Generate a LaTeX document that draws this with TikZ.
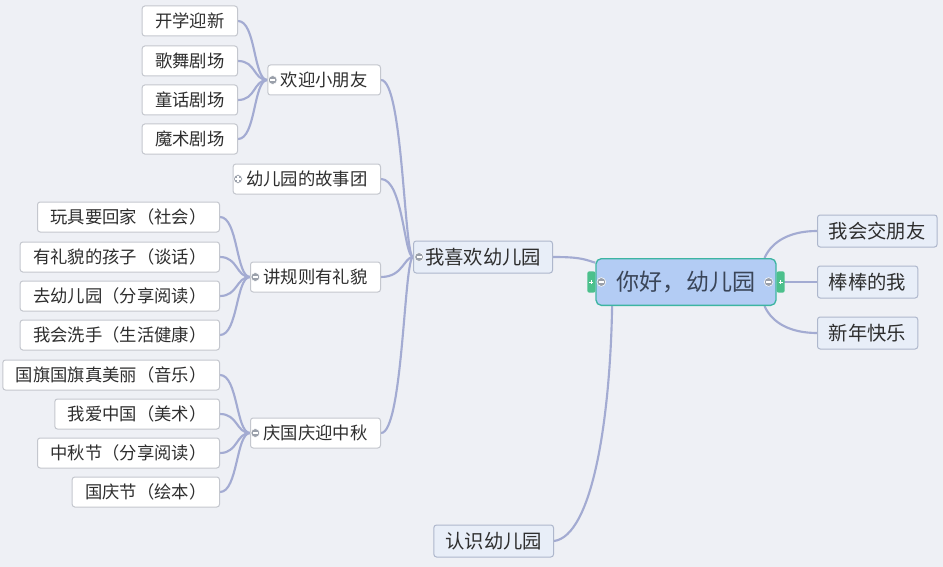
\documentclass[tikz,border=0pt]{standalone}
\usepackage{fontspec}
\setmainfont{Noto Sans CJK SC}
\usepackage{xcolor}
\usepackage{tikz}
\usetikzlibrary{calc, backgrounds}

\definecolor{bgcol}{HTML}{EEF0F5}
\definecolor{linecol}{HTML}{A3ABD2}
\definecolor{boxline}{HTML}{C4C7CE}
\definecolor{mainfill}{HTML}{E8EEF8}
\definecolor{mainline}{HTML}{AEB7CC}
\definecolor{rootfill}{HTML}{B3CCF4}
\definecolor{rootline}{HTML}{3DB5A2}
\definecolor{tabgreen}{HTML}{4CC08C}
\definecolor{markgray}{HTML}{9AA0AA}
\definecolor{textcol}{HTML}{2E2E2E}
\definecolor{roottext}{HTML}{3A4558}

\begin{document}
\begin{tikzpicture}[
            x=0.75pt, y=-0.75pt,
            root/.style={draw=rootline, line width=1pt, fill=rootfill, rounded corners=4pt,
                         minimum width=135pt, minimum height=35pt, text=roottext,
                         font=\fontsize{17.3}{20}\selectfont},
            topic/.style={draw=mainline, line width=0.75pt, fill=mainfill, rounded corners=2pt,
                          minimum height=24pt, inner xsep=8.6pt, text=textcol,
                          font=\fontsize{14.5}{17}\selectfont},
            sub/.style={draw=boxline, line width=0.75pt, fill=white, rounded corners=2pt,
                        minimum height=22.5pt, inner xsep=9.75pt, text=textcol,
                        font=\fontsize{13}{15}\selectfont},
            link/.style={draw=linecol, line width=1.6pt},
            foldminus/.pic={
                \fill[markgray, draw=white, line width=0.4pt] (0,0) circle (3.3pt);
                \draw[white, line width=0.9pt] (-1.9pt,0) -- (1.9pt,0);
            },
            foldplus/.pic={
                \fill[markgray, draw=white, line width=0.4pt] (0,0) circle (3.3pt);
                \draw[white, line width=0.9pt] (-1.9pt,0) -- (1.9pt,0) (0,-1.9pt) -- (0,1.9pt);
            },
            greentab/.pic={
                \fill[tabgreen, rounded corners=1.5pt] (-3pt,-8pt) rectangle (3pt,8pt);
                \draw[white, line width=0.7pt] (-1.6pt,0) -- (1.6pt,0) (0,-1.6pt) -- (0,1.6pt);
            }
        ]

        \useasboundingbox (0,0) rectangle (943,567);

        % Central topic
        \node[root] (root) at (686,282) {你好，幼儿园};

        % Main topics
        \node[topic, anchor=west] (friend) at (817,231) {我会交朋友};
        \node[topic, anchor=west] (great) at (817,282) {棒棒的我};
        \node[topic, anchor=west] (newyear) at (817,333) {新年快乐};
        \node[topic, anchor=east] (likes) at (553,257) {我喜欢幼儿园};
        \node[topic, anchor=east] (know) at (554,541) {认识幼儿园};

        % Subtopics of likes
        \node[sub, anchor=east] (welcome) at (381,80) {欢迎小朋友};
        \node[sub, anchor=east] (story) at (381,179) {幼儿园的故事团};
        \node[sub, anchor=east] (rules) at (381,277) {讲规则有礼貌};
        \node[sub, anchor=east] (fest) at (381,433) {庆国庆迎中秋};

        % Leaves of welcome
        \node[sub, anchor=east] (open) at (238,21) {开学迎新};
        \node[sub, anchor=east] (dance) at (238,61) {歌舞剧场};
        \node[sub, anchor=east] (fairy) at (238,100) {童话剧场};
        \node[sub, anchor=east] (magic) at (238,139) {魔术剧场};

        % Leaves of rules
        \node[sub, anchor=east] (toys) at (220,217) {玩具要回家（社会）};
        \node[sub, anchor=east] (polite) at (220,257) {有礼貌的孩子（谈话）};
        \node[sub, anchor=east] (gokg) at (220,296) {去幼儿园（分享阅读）};
        \node[sub, anchor=east] (wash) at (220,335) {我会洗手（生活健康）};

        % Leaves of fest
        \node[sub, anchor=east] (flag) at (220,375) {国旗国旗真美丽（音乐）};
        \node[sub, anchor=east] (china) at (220,414) {我爱中国（美术）};
        \node[sub, anchor=east] (moon) at (220,453) {中秋节（分享阅读）};
        \node[sub, anchor=east] (nation) at (220,492) {国庆节（绘本）};

        \begin{scope}[on background layer]
            \fill[bgcol] (0,0) rectangle (943,567);

            % Root to main topics
            \draw[link] (likes.east) .. controls +(25,0) and +(-12,-4) .. (root.168);
            \draw[link] (root.198) .. controls +(-2,115) and +(38,-5) .. (know.east);
            \draw[link] (root.17) .. controls +(8,-18) and +(-25,0) .. (friend.west);
            \draw[link] (root.east) -- (great.west);
            \draw[link] (root.-17) .. controls +(8,18) and +(-25,0) .. (newyear.west);

            % Main topic to subtopics
            \foreach \c in {welcome, story, rules, fest}
                \draw[link] (\c.east) .. controls +(22,0) and +(-9,0) .. (likes.west);

            % Subtopics to leaves
            \foreach \l in {open, dance, fairy, magic}
                \draw[link] (\l.east) .. controls +(18,0) and +(-14,0) .. (welcome.west);
            \foreach \l in {toys, polite, gokg, wash}
                \draw[link] (\l.east) .. controls +(18,0) and +(-14,0) .. (rules.west);
            \foreach \l in {flag, china, moon, nation}
                \draw[link] (\l.east) .. controls +(18,0) and +(-14,0) .. (fest.west);
        \end{scope}

        % Fold markers
        \pic at ([xshift=4pt]welcome.west) {foldminus};
        \pic at ([xshift=4pt]story.west) {foldplus};
        \pic at ([xshift=4pt]rules.west) {foldminus};
        \pic at ([xshift=4pt]fest.west) {foldminus};
        \pic at ([xshift=4.5pt]likes.west) {foldminus};
        \pic at ([xshift=4.5pt]root.west) {foldminus};
        \pic at ([xshift=-6pt]root.east) {foldminus};
        \pic at ([xshift=-3pt]root.west) {greentab};
        \pic at ([xshift=3pt]root.east) {greentab};

    \end{tikzpicture}
\end{document}
